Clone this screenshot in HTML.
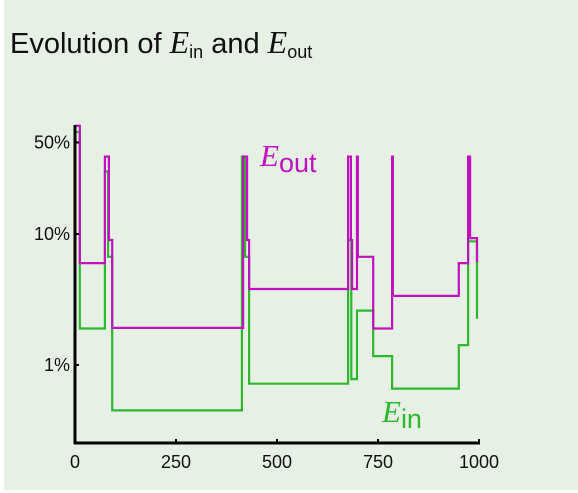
<!DOCTYPE html>
<html><head><meta charset="utf-8"><style>
body{margin:0;background:#fff;}
#wrap{position:relative;width:578px;height:493px;overflow:hidden;}
svg{position:absolute;left:0;top:0;font-family:"Liberation Sans",sans-serif;}
</style></head><body>
<div id="wrap">
<svg id="chart" width="578" height="493">
<rect x="4" y="0" width="574" height="490" fill="#e6f0e4"/>
<text x="10" y="53" font-size="29" fill="#111">Evolution of <tspan font-family="Liberation Serif" font-style="italic" font-size="32">E</tspan><tspan font-size="18" dy="5">in</tspan><tspan dy="-5"> and </tspan><tspan font-family="Liberation Serif" font-style="italic" font-size="32">E</tspan><tspan font-size="18" dy="5">out</tspan></text>
<g id="series"></g>
<line x1="75" y1="125" x2="75" y2="444" stroke="#000" stroke-width="3"/>
<line x1="74" y1="443" x2="480" y2="443" stroke="#000" stroke-width="3"/>
<g id="ticks"></g>
<text x="260" y="166" font-size="27" fill="#c010c0"><tspan font-family="Liberation Serif" font-style="italic" font-size="31">E</tspan><tspan dy="6">out</tspan></text>
<text x="382" y="422" font-size="27" fill="#2eb82e"><tspan font-family="Liberation Serif" font-style="italic" font-size="31">E</tspan><tspan dy="6">in</tspan></text>
</svg></div>
<script>
const xTicks=[0,250,500,750,1000];
const yTicks=[50,10,1];
const yTickLabels=["50%","10%","1%"];
const eoutX=[0,12,74,84,92,416,426,431,676,683,686,698,700,738,785,787,950,973,978,995,998];
const eoutV=[67,6.0,39,9,1.92,39,9,3.8,39,9,3.8,39,6.7,1.9,39,3.37,6.0,39,9.3,6.2,6.2];
const einX=[0,12,74,82,92,413,421,431,676,684,698,738,785,950,973,995,998];
const einV=[60,1.9,30,6.7,0.45,39,6.7,0.72,9,0.78,2.6,1.17,0.66,1.42,8.8,2.3,2.3];
function sx(x){return 75+x*0.404;}
function sy(v){return 365-131*Math.log10(v);}
const NS="http://www.w3.org/2000/svg";
function stepPath(xs,vs){
  let d="M"+sx(xs[0])+","+sy(vs[0]);
  for(let i=1;i<xs.length;i++){
    d+=" H"+sx(xs[i]).toFixed(1)+" V"+sy(vs[i]).toFixed(1);
  }
  return d;
}
const g=document.getElementById('series');
const pin=document.createElementNS(NS,'path');
pin.setAttribute('d',stepPath(einX,einV));
pin.setAttribute('fill','none');pin.setAttribute('stroke','#2eb82e');pin.setAttribute('stroke-width','2.2');


g.appendChild(pin);
const pout=document.createElementNS(NS,'path');
pout.setAttribute('d',stepPath(eoutX,eoutV));
pout.setAttribute('fill','none');pout.setAttribute('stroke','#c010c0');pout.setAttribute('stroke-width','2.2');


g.appendChild(pout);
const t=document.getElementById('ticks');
xTicks.forEach(v=>{
  const l=document.createElementNS(NS,'line');
  l.setAttribute('x1',sx(v));l.setAttribute('x2',sx(v));l.setAttribute('y1',439);l.setAttribute('y2',443);
  l.setAttribute('stroke','#000');l.setAttribute('stroke-width','2');
  
  
  t.appendChild(l);
  const tx=document.createElementNS(NS,'text');
  tx.setAttribute('x',sx(v));tx.setAttribute('y',468);tx.setAttribute('text-anchor','middle');
  tx.setAttribute('font-size','18');tx.setAttribute('fill','#111');tx.textContent=v;
  
  
  t.appendChild(tx);
});
yTicks.forEach((v,i)=>{
  const l=document.createElementNS(NS,'line');
  l.setAttribute('x1',75);l.setAttribute('x2',79);l.setAttribute('y1',sy(v));l.setAttribute('y2',sy(v));
  l.setAttribute('stroke','#000');l.setAttribute('stroke-width','2');
  
  
  t.appendChild(l);
  const tx=document.createElementNS(NS,'text');
  tx.setAttribute('x',70);tx.setAttribute('y',sy(v)+6);tx.setAttribute('text-anchor','end');
  tx.setAttribute('font-size','18');tx.setAttribute('fill','#111');tx.textContent=yTickLabels[i];
  
  
  t.appendChild(tx);
});
</script>
</body></html>
